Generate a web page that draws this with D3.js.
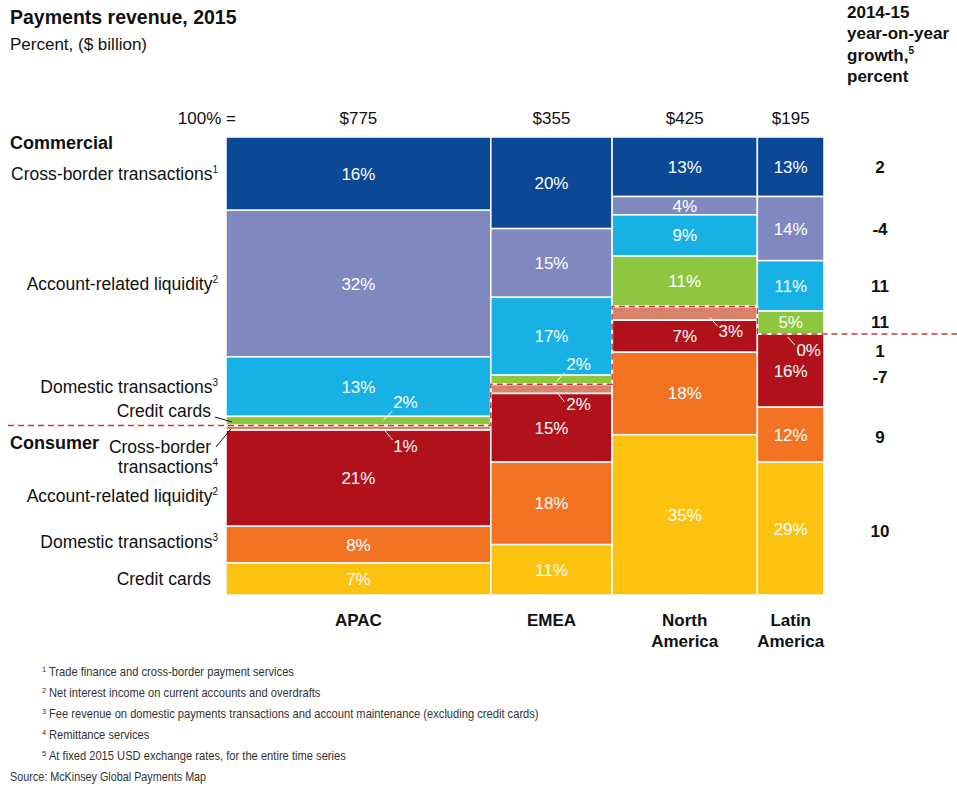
<!DOCTYPE html>
<html>
<head>
<meta charset="utf-8">
<script src="https://cdn.jsdelivr.net/npm/d3@7"></script>
<style>
  html, body { margin: 0; padding: 0; background: #fff; }
  svg { display: block; }
  text { font-family: "Liberation Sans Narrow", "Arial Narrow", "Liberation Sans", Arial, sans-serif; fill: #111; }
</style>
</head>
<body>
<svg id="chart" width="957" height="787"></svg>
<script>
// Regions (columns) and their 2015 payments revenue, $ billion
const regions = ["APAC", "EMEA", "North America", "Latin America"];
const regionLines = [["APAC"], ["EMEA"], ["North", "America"], ["Latin", "America"]];
const totals = [775, 355, 425, 195];

// Revenue pools, stacked top to bottom (first four commercial, last four consumer)
const pools = [
  "Commercial cross-border", "Commercial account-related liquidity",
  "Commercial domestic transactions", "Commercial credit cards",
  "Consumer cross-border", "Consumer account-related liquidity",
  "Consumer domestic transactions", "Consumer credit cards"
];
const poolColors = ["#0b4996", "#7f89bf", "#17b1e5", "#8dc63f",
                    "#d9826b", "#b0111a", "#f37323", "#fdc10f"];

// Share of each region's revenue by pool, percent
const apacShares  = [16, 32, 13, 2, 1, 21, 8, 7];
const emeaShares  = [20, 15, 17, 2, 2, 15, 18, 11];
const naShares    = [13, 4, 9, 11, 3, 7, 18, 35];
const latamShares = [13, 14, 11, 5, 0, 16, 12, 29];
const shares = [apacShares, emeaShares, naShares, latamShares];

// 2014-15 year-on-year growth by pool, percent
const growth = [2, -4, 11, 11, 1, -7, 9, 10];

// Footnotes
const notes = [
  ["1", "Trade finance and cross-border payment services"],
  ["2", "Net interest income on current accounts and overdrafts"],
  ["3", "Fee revenue on domestic payments transactions and account maintenance (excluding credit cards)"],
  ["4", "Remittance services"],
  ["5", "At fixed 2015 USD exchange rates, for the entire time series"]
];

const svg = d3.select("#chart");

const x = d3.scaleLinear().domain([0, d3.sum(totals)]).range([226, 824]);
const y = d3.scaleLinear().domain([0, 100]).range([137, 595]);

// Build cells
const starts = d3.cumsum([0, ...totals]);
const cells = [];
regions.forEach((r, ri) => {
  let acc = 0;
  shares[ri].forEach((v, pi) => {
    cells.push({ ri, pi, v, x0: starts[ri], x1: starts[ri] + totals[ri], y0: acc, y1: acc + v });
    acc += v;
  });
});

// Cells of the mekko
svg.append("g").selectAll("rect")
  .data(cells.filter(d => d.v > 0))
  .join("rect")
  .attr("x", d => x(d.x0))
  .attr("y", d => y(d.y0))
  .attr("width", d => x(d.x1) - x(d.x0))
  .attr("height", d => y(d.y1) - y(d.y0))
  .attr("fill", d => poolColors[d.pi])
  .attr("stroke", "#fff")
  .attr("stroke-width", 1.5);

// Commercial / consumer divide: a stepped boundary across the columns
const split = shares.map(s => d3.sum(s.slice(0, 4)));
const pts = [[8, y(split[0])]];
regions.forEach((r, ri) => {
  pts.push([x(starts[ri]), y(split[ri])]);
  pts.push([x(starts[ri + 1]), y(split[ri])]);
});
pts.push([957, y(split[3])]);
const line = d3.line();
svg.append("path").attr("d", line(pts.slice(1, -1)))
  .attr("fill", "none").attr("stroke", "#fff").attr("stroke-width", 2);
svg.append("path").attr("d", line(pts))
  .attr("fill", "none").attr("stroke", "#c73a3f").attr("stroke-width", 1.5)
  .attr("stroke-dasharray", "6,4");

// Value labels; thin cells get a label placed outside with a leader line
const callouts = {
  "0-3": { lx0: 25, ly0: -1, lx1: 34, ly1: -10, tx: 47, ty: -19 },
  "0-4": { lx0: 25, ly0: 1, lx1: 34, ly1: 12, tx: 47, ty: 18 },
  "1-3": { lx0: 5, ly0: 2, lx1: 13, ly1: -7, tx: 27, ty: -16 },
  "1-4": { lx0: 5, ly0: 3, lx1: 13, ly1: 13, tx: 27, ty: 15 },
  "2-4": { lx0: 25, ly0: 4, lx1: 33, ly1: 13, tx: 46, ty: 18 },
  "3-4": { lx0: -3, ly0: 3, lx1: 4, ly1: 11, tx: 18, ty: 16 }
};
const labG = svg.append("g");
cells.forEach(d => {
  const cx = (x(d.x0) + x(d.x1)) / 2;
  const cy = (y(d.y0) + y(d.y1)) / 2;
  const c = callouts[d.ri + "-" + d.pi];
  let tx = cx, ty = cy;
  if (c) {
    labG.append("line")
      .attr("x1", cx + c.lx0).attr("y1", cy + c.ly0)
      .attr("x2", cx + c.lx1).attr("y2", cy + c.ly1)
      .attr("stroke", "#fff").attr("stroke-width", 1);
    tx = cx + c.tx; ty = cy + c.ty;
  }
  labG.append("text")
    .attr("x", tx).attr("y", ty + 6)
    .attr("text-anchor", "middle")
    .style("fill", "#fff")
    .style("font-size", "17px")
    .text(d.v + "%");
});

// Column totals and region names
svg.append("text").attr("x", 236).attr("y", 124).attr("text-anchor", "end")
  .style("font-size", "17px").text("100% =");
regions.forEach((r, ri) => {
  const cx = (x(starts[ri]) + x(starts[ri + 1])) / 2;
  svg.append("text").attr("x", cx).attr("y", 124).attr("text-anchor", "middle")
    .style("font-size", "17px").text("$" + totals[ri]);
  regionLines[ri].forEach((ln, li) => {
    svg.append("text").attr("x", cx).attr("y", 626 + li * 21).attr("text-anchor", "middle")
      .style("font-size", "17px").style("font-weight", "bold").text(ln);
  });
});

// Title
svg.append("text").attr("x", 10).attr("y", 24)
  .style("font-size", "19.5px").style("font-weight", "bold").text("Payments revenue, 2015");
svg.append("text").attr("x", 10).attr("y", 50)
  .style("font-size", "17px").text("Percent, ($ billion)");

// Growth column header
[["2014-15"], ["year-on-year"], ["growth,", "5"], ["percent"]].forEach((ln, i) => {
  const t = svg.append("text").attr("x", 847).attr("y", 18 + i * 21.3)
    .style("font-size", "17px").style("font-weight", "bold");
  t.append("tspan").text(ln[0]);
  if (ln[1]) t.append("tspan").attr("dy", -7).style("font-size", "10px").text(ln[1]);
});

// Growth values, aligned with the pool rows of the rightmost column
const lastCells = cells.filter(d => d.ri === 3);
const growthNudge = [0, 0, 0, 0, 17, 6, 2, 2];
growth.forEach((g, pi) => {
  const d = lastCells[pi];
  const cy = (y(d.y0) + y(d.y1)) / 2 + growthNudge[pi];
  svg.append("text").attr("x", 880).attr("y", cy + 6).attr("text-anchor", "middle")
    .style("font-size", "17px").style("font-weight", "bold").text(g);
});

// Row labels on the left
function rowLabel(txt, sup, yy, xx) {
  const t = svg.append("text").attr("x", xx || 218).attr("y", yy).attr("text-anchor", "end")
    .style("font-size", "17.5px");
  t.append("tspan").text(txt);
  if (sup) t.append("tspan").attr("dy", -7).style("font-size", "10px").text(sup);
}
const apacCells = cells.filter(d => d.ri === 0);
const mid = pi => (y(apacCells[pi].y0) + y(apacCells[pi].y1)) / 2;

svg.append("text").attr("x", 10).attr("y", 149)
  .style("font-size", "18px").style("font-weight", "bold").text("Commercial");
rowLabel("Cross-border transactions", "1", mid(0) + 6);
rowLabel("Account-related liquidity", "2", mid(1) + 6);
rowLabel("Domestic transactions", "3", mid(2) + 6);
rowLabel("Credit cards", null, mid(3) - 4, 211);
svg.append("text").attr("x", 10).attr("y", 449)
  .style("font-size", "18px").style("font-weight", "bold").text("Consumer");
rowLabel("Cross-border", null, mid(4) + 25, 211);
rowLabel("transactions", "4", mid(4) + 45);
rowLabel("Account-related liquidity", "2", mid(5) + 24);
rowLabel("Domestic transactions", "3", mid(6) + 3);
rowLabel("Credit cards", null, mid(7) + 6, 211);

// Leaders from the left labels to the thin APAC cells
svg.append("line").attr("x1", 215).attr("y1", 417).attr("x2", 232).attr("y2", mid(3) + 1)
  .attr("stroke", "#111").attr("stroke-width", 1);
svg.append("line").attr("x1", 216).attr("y1", 447).attr("x2", 231).attr("y2", mid(4) + 1)
  .attr("stroke", "#111").attr("stroke-width", 1);

// Footnotes and source, set slightly condensed
notes.forEach((n, i) => {
  const g = svg.append("g").attr("transform", `translate(42,${676 + i * 21}) scale(0.93,1)`);
  const t = g.append("text").attr("x", 0).attr("y", 0).style("font-size", "12px").style("fill", "#333");
  t.append("tspan").attr("dy", -4).style("font-size", "8px").text(n[0]);
  t.append("tspan").attr("dy", 4).attr("dx", 3).text(n[1]);
});
svg.append("g").attr("transform", "translate(10,781) scale(0.9,1)")
  .append("text").attr("x", 0).attr("y", 0).style("font-size", "12px").style("fill", "#333")
  .text("Source: McKinsey Global Payments Map");
</script>
</body>
</html>
